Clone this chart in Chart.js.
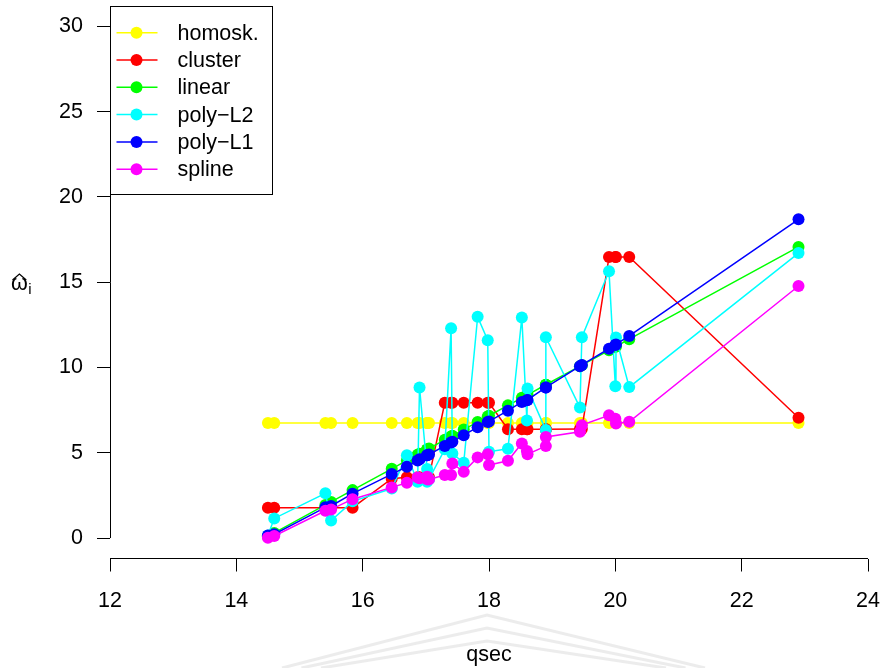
<!DOCTYPE html>
<html>
<head>
<meta charset="utf-8">
<script src="https://cdn.jsdelivr.net/npm/chart.js@4.4.1/dist/chart.umd.min.js"></script>
<style>
  html, body { margin: 0; padding: 0; background: #fff; }
  canvas { display: block; }
</style>
</head>
<body>
<canvas id="weights" width="883" height="668"></canvas>
<script>
// qsec, sorted ascending (ties kept in data order)
const qsec = [14.50, 14.60, 15.41, 15.50, 15.84, 16.46, 16.70, 16.87, 16.90, 17.02, 17.02, 17.05,
  17.30, 17.40, 17.42, 17.60, 17.82, 17.98, 18.00, 18.30, 18.52, 18.60, 18.61, 18.90, 18.90,
  19.44, 19.47, 19.90, 20.00, 20.01, 20.22, 22.90];

const homosk = [6.74, 6.74, 6.74, 6.74, 6.74, 6.74, 6.74, 6.74, 6.74, 6.74, 6.74, 6.74,
  6.74, 6.74, 6.74, 6.74, 6.74, 6.74, 6.74, 6.74, 6.74, 6.74, 6.74, 6.74, 6.74,
  6.74, 6.74, 6.74, 6.74, 6.74, 6.74, 6.74];

const cluster = [1.78, 1.78, 1.78, 1.78, 1.78, 3.48, 3.56, 3.56, 3.56, 3.56, 3.56, 3.56,
  7.93, 7.93, 7.93, 7.93, 7.93, 7.93, 7.93, 6.38, 6.38, 6.38, 6.38, 6.38, 6.38,
  6.40, 6.40, 16.48, 16.48, 16.48, 16.48, 7.05];

const linear = [0.10, 0.30, 1.94, 2.12, 2.81, 4.06, 4.55, 4.89, 4.95, 5.19, 5.19, 5.25,
  5.76, 5.96, 6.00, 6.36, 6.81, 7.13, 7.17, 7.78, 8.22, 8.38, 8.40, 8.99, 8.99,
  10.08, 10.14, 11.01, 11.21, 11.23, 11.66, 17.07];

const polyL2 = [0.15, 1.15, 2.62, 1.03, 2.15, 2.90, 4.86, 3.30, 8.83, 4.05, 3.30, 3.45,
  5.20, 12.30, 4.96, 4.41, 12.97, 11.60, 5.06, 5.23, 12.93, 6.89, 8.77, 6.33, 11.78,
  7.65, 11.78, 15.64, 8.90, 11.76, 8.85, 16.71];

const polyL1 = [0.15, 0.22, 1.80, 1.88, 2.60, 3.75, 4.18, 4.55, 4.62, 4.85, 4.85, 4.90,
  5.40, 5.60, 5.64, 6.03, 6.50, 6.80, 6.84, 7.47, 7.98, 8.08, 8.10, 8.83, 8.83,
  10.08, 10.15, 11.10, 11.32, 11.35, 11.85, 18.69];

const spline = [0.02, 0.12, 1.60, 1.68, 2.28, 2.97, 3.24, 3.55, 3.50, 3.60, 3.44, 3.44,
  3.69, 3.69, 4.37, 3.88, 4.73, 4.92, 4.28, 4.53, 5.55, 5.10, 4.92, 5.39, 5.93,
  6.23, 6.62, 7.20, 7.00, 6.72, 6.82, 14.78];

const seriesNames = ['homosk.', 'cluster', 'linear', 'poly\u2212L2', 'poly\u2212L1', 'spline'];
const seriesValues = [homosk, cluster, linear, polyL2, polyL1, spline];
const seriesColors = ['#ffff00', '#ff0000', '#00ff00', '#00ffff', '#0000ff', '#ff00ff'];

const xTicks = [12, 14, 16, 18, 20, 22, 24];
const yTicks = [0, 5, 10, 15, 20, 25, 30];

const FONT = '"Liberation Sans", Arial, Helvetica, sans-serif';
const FONT_SIZE = 21.5;
Chart.defaults.font.family = FONT;
Chart.defaults.color = '#000';

const datasets = seriesValues.map((vals, i) => ({
  label: seriesNames[i],
  data: qsec.map((q, j) => ({ x: q, y: vals[j] })),
  borderColor: seriesColors[i],
  backgroundColor: seriesColors[i],
  borderWidth: 1.5,
  pointRadius: 6,
  pointBorderWidth: 0,
  pointHoverRadius: 6,
  tension: 0,
  fill: false,
  // later series sit on top, like successive lines() calls
  order: seriesValues.length - i
}));

// R-style axis lines: only between first and last tick
const axisLines = {
  id: 'axisLines',
  afterDraw(chart) {
    const { ctx, chartArea, scales } = chart;
    ctx.save();
    ctx.strokeStyle = '#000';
    ctx.lineWidth = 1;
    const xl = Math.round(chartArea.left) + 0.5;
    const y0 = scales.y.getPixelForValue(yTicks[0]);
    const y1 = scales.y.getPixelForValue(yTicks[yTicks.length - 1]);
    ctx.beginPath();
    ctx.moveTo(xl, y0);
    ctx.lineTo(xl, y1);
    ctx.stroke();
    const yb = Math.round(chartArea.bottom) - 0.5;
    const x0 = scales.x.getPixelForValue(xTicks[0]);
    const x1 = scales.x.getPixelForValue(xTicks[xTicks.length - 1]);
    ctx.beginPath();
    ctx.moveTo(x0, yb);
    ctx.lineTo(x1, yb);
    ctx.stroke();

    // y label: omega hat, subscript i
    ctx.fillStyle = '#000';
    ctx.font = FONT_SIZE + 'px ' + FONT;
    ctx.textBaseline = 'alphabetic';
    ctx.textAlign = 'left';
    const lx = 11, ly = 290;
    ctx.fillText('\u03c9', lx, ly);
    const w = ctx.measureText('\u03c9').width;
    ctx.beginPath();
    ctx.lineWidth = 1.2;
    ctx.moveTo(lx + 1.5, 280);
    ctx.lineTo(lx + w / 2, 274);
    ctx.lineTo(lx + w - 1.5, 280);
    ctx.stroke();
    ctx.font = '15px ' + FONT;
    ctx.fillText('i', lx + w + 0.5, ly + 4);
    ctx.restore();
  }
};

// legend box in the top-left corner of the plot region
const boxLegend = {
  id: 'boxLegend',
  afterDraw(chart) {
    const { ctx, chartArea } = chart;
    const left = Math.round(chartArea.left) + 0.5;
    const top = 6.5, width = 162, height = 188;
    ctx.save();
    ctx.fillStyle = '#fff';
    ctx.fillRect(left, top, width, height);
    ctx.strokeStyle = '#000';
    ctx.lineWidth = 1;
    ctx.strokeRect(left, top, width, height);
    ctx.font = FONT_SIZE + 'px ' + FONT;
    ctx.textBaseline = 'middle';
    ctx.textAlign = 'left';
    seriesNames.forEach((name, i) => {
      const y = 32.7 + i * 27.3;
      ctx.strokeStyle = seriesColors[i];
      ctx.lineWidth = 1.5;
      ctx.beginPath();
      ctx.moveTo(left + 6, y);
      ctx.lineTo(left + 47, y);
      ctx.stroke();
      ctx.fillStyle = seriesColors[i];
      ctx.beginPath();
      ctx.arc(left + 26, y, 6, 0, Math.PI * 2);
      ctx.fill();
      ctx.fillStyle = '#000';
      ctx.fillText(name, left + 67, y + 1);
    });
    ctx.restore();
  }
};

// faint chevron mark behind the x title
const chevron = {
  id: 'chevron',
  beforeDraw(chart) {
    const { ctx } = chart;
    ctx.save();
    ctx.strokeStyle = 'rgba(200,200,200,0.35)';
    ctx.lineWidth = 3;
    [0, 13, 26].forEach(d => {
      ctx.beginPath();
      ctx.moveTo(282 + d * 1.5, 668);
      ctx.lineTo(487, 615 + d);
      ctx.lineTo(705 - d * 1.5, 668);
      ctx.stroke();
    });
    ctx.restore();
  }
};

new Chart(document.getElementById('weights'), {
  type: 'line',
  data: { datasets },
  options: {
    responsive: false,
    animation: false,
    events: [],
    layout: { padding: { top: 5.5, right: 15, left: 0, bottom: 0 } },
    plugins: {
      legend: { display: false },
      tooltip: { enabled: false }
    },
    scales: {
      x: {
        type: 'linear',
        min: 12,
        max: 24,
        afterBuildTicks: (scale) => { scale.ticks = xTicks.map(v => ({ value: v })); },
        afterFit: (scale) => {
          scale.height = 109.5;
          scale.paddingLeft = 0;
          scale.paddingRight = 0;
        },
        grid: { drawOnChartArea: false, drawTicks: true, tickLength: 13, color: '#000', lineWidth: 1 },
        border: { display: false },
        ticks: { font: { size: FONT_SIZE }, color: '#000', padding: 17, maxRotation: 0 },
        title: { display: true, text: 'qsec', font: { size: FONT_SIZE }, color: '#000', padding: { top: 0, bottom: 0 } }
      },
      y: {
        type: 'linear',
        min: -1.2,
        max: 31.2,
        afterBuildTicks: (scale) => { scale.ticks = yTicks.map(v => ({ value: v })); },
        afterFit: (scale) => {
          scale.width = 110;
          scale.paddingTop = 0;
          scale.paddingBottom = 0;
        },
        grid: { drawOnChartArea: false, drawTicks: true, tickLength: 13, color: '#000', lineWidth: 1 },
        border: { display: false },
        ticks: { font: { size: FONT_SIZE }, color: '#000', padding: 14 }
      }
    }
  },
  plugins: [chevron, axisLines, boxLegend]
});
</script>
</body>
</html>
